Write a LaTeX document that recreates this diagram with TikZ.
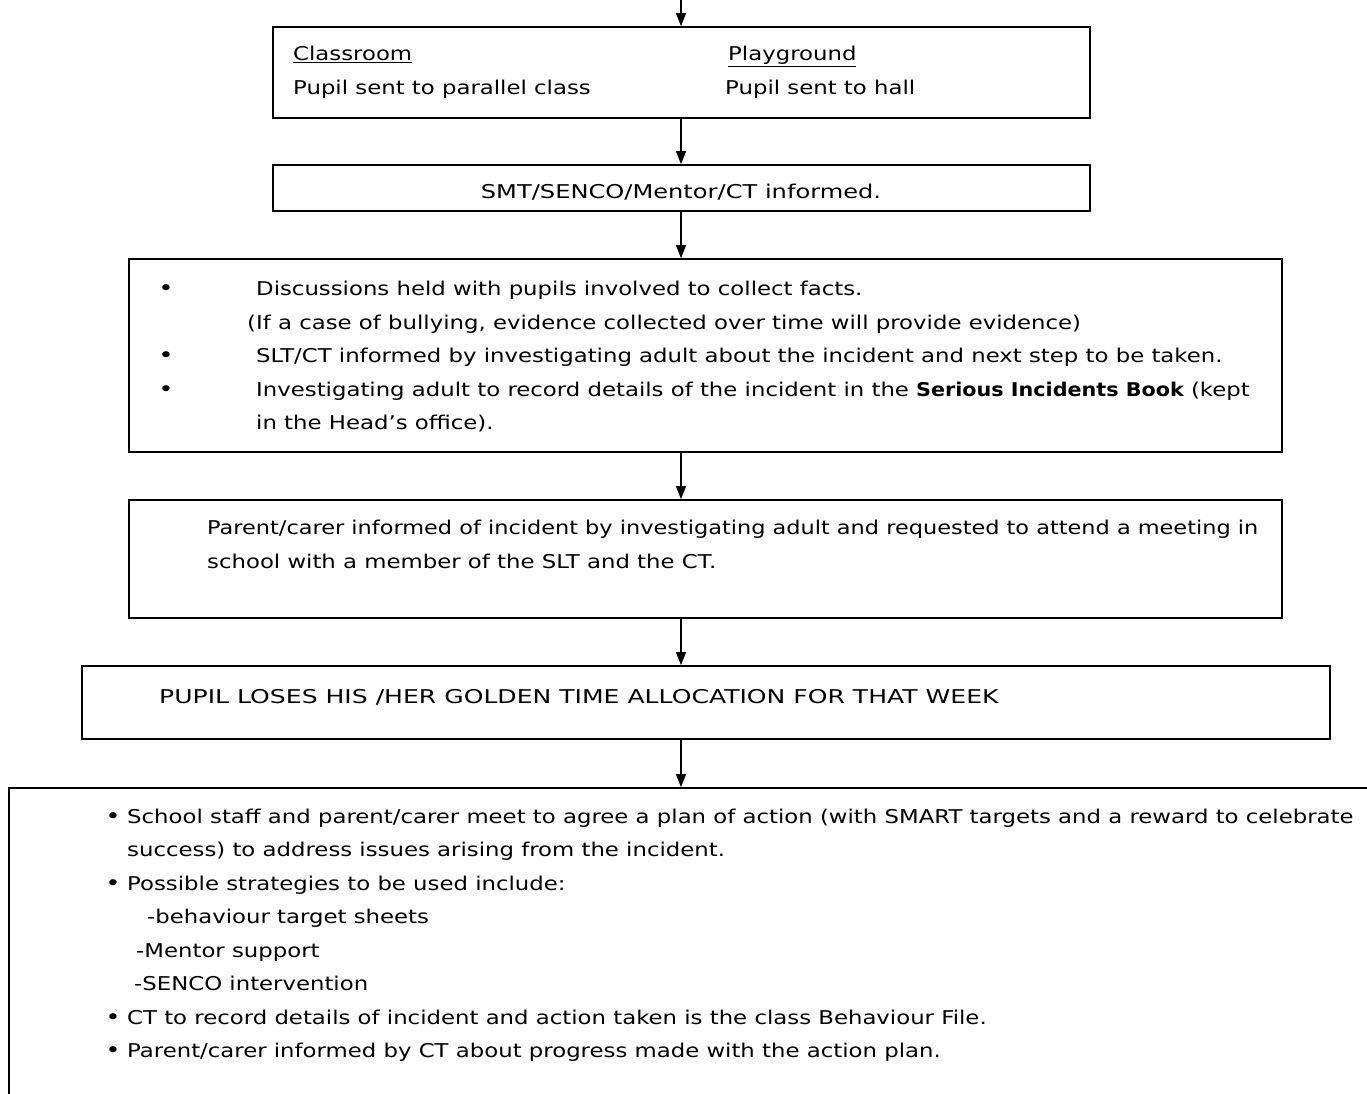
\documentclass[tikz,border=0pt]{standalone}
\usepackage{fontspec}
\setmainfont[FakeStretch=1.2]{DejaVu Sans}
\newfontfamily\boldfam[FakeStretch=1.09]{DejaVu Sans}
\newfontfamily\capsfam[FakeStretch=1.32]{DejaVu Sans}
\newfontfamily\midfam[FakeStretch=1.27]{DejaVu Sans}
\newfontfamily\narfam[FakeStretch=1.18]{DejaVu Sans}
\usetikzlibrary{arrows.meta}
\tikzset{
  box/.style={draw=black, line width=1.8pt, rectangle, inner sep=0pt},
  arr/.style={draw=black, line width=1.4pt, -{Triangle[length=13pt,width=10pt]}},
  txt/.style={anchor=base west, inner sep=0pt, font=\fontsize{19}{23}\selectfont},
  ctxt/.style={anchor=base, inner sep=0pt, font=\fontsize{19}{23}\selectfont},
  bul/.style={anchor=base, inner sep=0pt, font=\fontsize{21}{23}\selectfont},
}
\begin{document}
\begin{tikzpicture}[x=1pt,y=-1pt]
\path[use as bounding box, clip] (0,0) rectangle (1367,1094);
\fill[white] (0,0) rectangle (1367,1094);
\coordinate (ax) at (681,0);
% boxes
\node[box, minimum width=817pt, minimum height=91pt] (b1) at (681.5,72.5) {};
\node[box, minimum width=817pt, minimum height=46pt] (b2) at (681.5,188) {};
\node[box, minimum width=1153pt, minimum height=193pt] (b3) at (705.5,355.5) {};
\node[box, minimum width=1153pt, minimum height=118pt] (b4) at (705.5,559) {};
\node[box, minimum width=1248pt, minimum height=73pt] (b5) at (706,702.5) {};
\node[box, minimum width=1380pt, minimum height=340pt] (b6) at (699,958) {};
% arrows
\draw[arr] (ax) -- (b1.north -| ax);
\draw[arr] (b1.south -| ax) -- (b2.north -| ax);
\draw[arr] (b2.south -| ax) -- (b3.north -| ax);
\draw[arr] (b3.south -| ax) -- (b4.north -| ax);
\draw[arr] (b4.south -| ax) -- (b5.north -| ax);
\draw[arr] (b5.south -| ax) -- (b6.north -| ax);
% box 1
\node[txt] (t11) at (293,61) {\underline{Classroom}};
\node[txt] (t12) at (293,95) {Pupil sent to parallel class};
\node[txt] (t13) at (728,61) {\underline{Playground}};
\node[txt] (t14) at (725,95) {Pupil sent to hall};
% box 2
\node[ctxt] (t21) at (681,198) {\midfam SMT/SENCO/Mentor/CT informed.};
% box 3
\node[bul] (u31) at (166,295) {•};
\node[txt] (t31) at (256,295) {Discussions held with pupils involved to collect facts.};
\node[txt] (t32) at (247,329) {(If a case of bullying, evidence collected over time will provide evidence)};
\node[bul] (u33) at (166,362) {•};
\node[txt] (t33) at (256,362) {SLT/CT informed by investigating adult about the incident and next step to be taken.};
\node[bul] (u34) at (166,396) {•};
\node[txt] (t34) at (256,396) {Investigating adult to record details of the incident in the {\boldfam\bfseries Serious Incidents Book} (kept};
\node[txt] (t35) at (256,429) {in the Head’s office).};
% box 4
\node[txt] (t41) at (207,534) {\narfam Parent/carer informed of incident by investigating adult and requested to attend a meeting in};
\node[txt] (t42) at (207,568) {school with a member of the SLT and the CT.};
% box 5
\node[txt] (t51) at (159,703) {\capsfam PUPIL LOSES HIS /HER GOLDEN TIME ALLOCATION FOR THAT WEEK};
% box 6
\node[bul] (u61) at (113,823) {•};
\node[txt] (t61) at (127,823) {School staff and parent/carer meet to agree a plan of action (with SMART targets and a reward to celebrate};
\node[txt] (t62) at (127,856) {success) to address issues arising from the incident.};
\node[bul] (u63) at (113,890) {•};
\node[txt] (t63) at (127,890) {Possible strategies to be used include:};
\node[txt] (t64) at (147,923) {-behaviour target sheets};
\node[txt] (t65) at (136,957) {-Mentor support};
\node[txt] (t66) at (134,990) {-SENCO intervention};
\node[bul] (u67) at (113,1024) {•};
\node[txt] (t67) at (127,1024) {CT to record details of incident and action taken is the class Behaviour File.};
\node[bul] (u68) at (113,1057) {•};
\node[txt] (t68) at (127,1057) {Parent/carer informed by CT about progress made with the action plan.};
\end{tikzpicture}
\end{document}
